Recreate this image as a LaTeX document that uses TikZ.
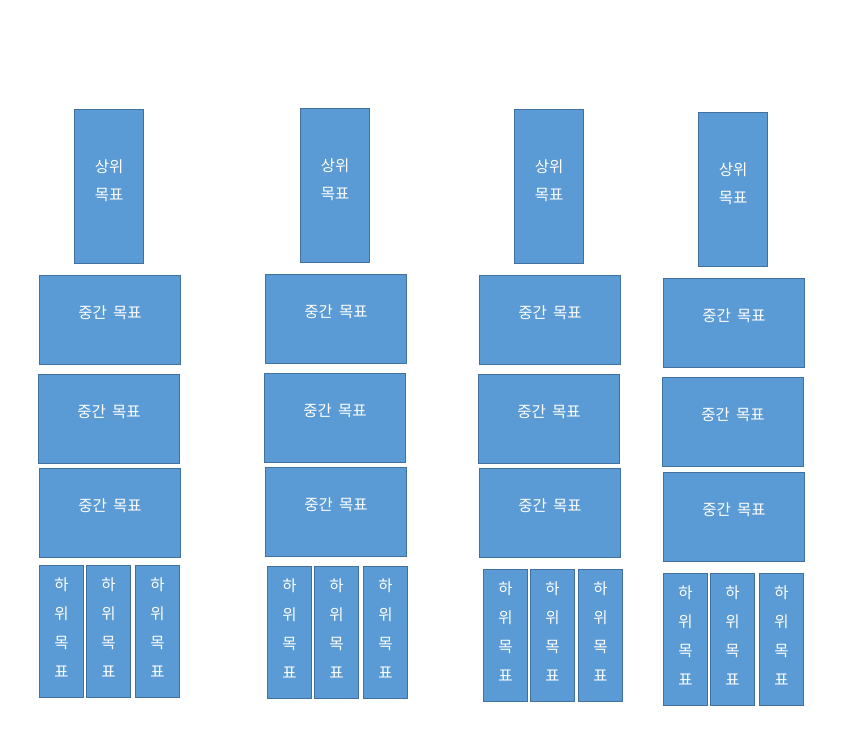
\documentclass[tikz,border=0pt]{standalone}
\usepackage{fontspec}
\newfontfamily\kr[WordSpace=1.8]{Noto Sans CJK KR}
\usetikzlibrary{positioning}
\definecolor{boxblue}{HTML}{5B9BD5}
\definecolor{boxline}{HTML}{41719C}

\begin{document}
\begin{tikzpicture}[x=1pt, y=-1pt, every node/.style={font=\kr\fontsize{15.5}{28}\selectfont, text=white}]
\tikzset{goal/.style={draw=boxline, fill=boxblue, line width=1.2pt, anchor=north west, align=center, inner sep=0pt},
  topgoal/.style={goal, minimum width=69pt, minimum height=154pt, text depth=14pt},
  midgoal/.style={goal, minimum width=141pt, minimum height=89pt, text depth=16pt},
  subgoal/.style={goal, minimum width=44pt, minimum height=132pt, text depth=9pt, font=\kr\fontsize{15.5}{29}\selectfont}}
\useasboundingbox (0,0) rectangle (849,730);
% column 1
\node[topgoal] (c1top) at (74,109) {상위\\목표};
\node[midgoal] (c1m1) at (39,275) {중간 목표};
\node[midgoal] (c1m2) at (38,374) {중간 목표};
\node[midgoal] (c1m3) at (39,468) {중간 목표};
\node[subgoal] (c1s1) at (39,565) {하\\위\\목\\표};
\node[subgoal] (c1s2) at (86,565) {하\\위\\목\\표};
\node[subgoal] (c1s3) at (135,565) {하\\위\\목\\표};
% column 2
\node[topgoal] (c2top) at (300,108) {상위\\목표};
\node[midgoal] (c2m1) at (265,274) {중간 목표};
\node[midgoal] (c2m2) at (264,373) {중간 목표};
\node[midgoal] (c2m3) at (265,467) {중간 목표};
\node[subgoal] (c2s1) at (267,566) {하\\위\\목\\표};
\node[subgoal] (c2s2) at (314,566) {하\\위\\목\\표};
\node[subgoal] (c2s3) at (363,566) {하\\위\\목\\표};
% column 3
\node[topgoal] (c3top) at (514,109) {상위\\목표};
\node[midgoal] (c3m1) at (479,275) {중간 목표};
\node[midgoal] (c3m2) at (478,374) {중간 목표};
\node[midgoal] (c3m3) at (479,468) {중간 목표};
\node[subgoal] (c3s1) at (483,569) {하\\위\\목\\표};
\node[subgoal] (c3s2) at (530,569) {하\\위\\목\\표};
\node[subgoal] (c3s3) at (578,569) {하\\위\\목\\표};
% column 4
\node[topgoal] (c4top) at (698,112) {상위\\목표};
\node[midgoal] (c4m1) at (663,278) {중간 목표};
\node[midgoal] (c4m2) at (662,377) {중간 목표};
\node[midgoal] (c4m3) at (663,472) {중간 목표};
\node[subgoal] (c4s1) at (663,573) {하\\위\\목\\표};
\node[subgoal] (c4s2) at (710,573) {하\\위\\목\\표};
\node[subgoal] (c4s3) at (759,573) {하\\위\\목\\표};
\end{tikzpicture}
\end{document}
